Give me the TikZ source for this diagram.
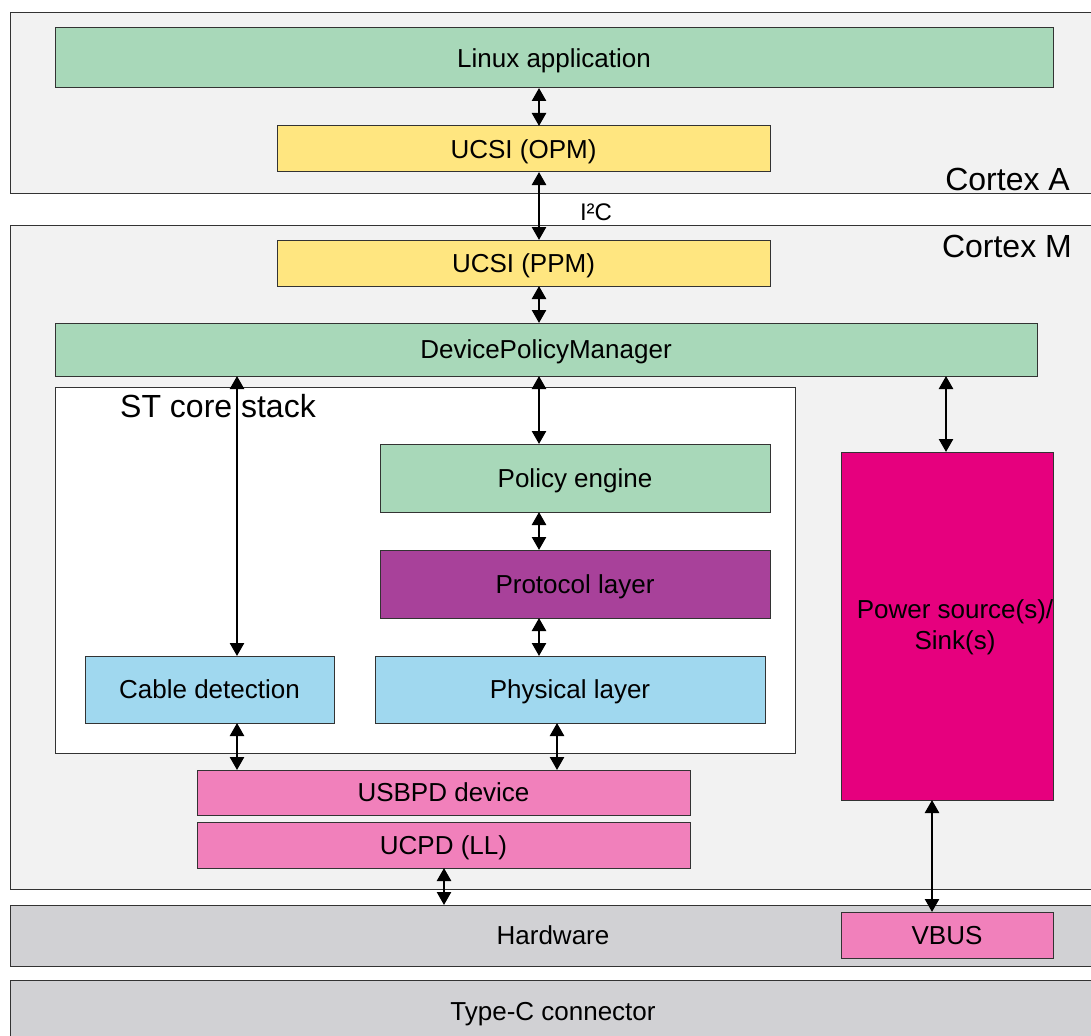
\documentclass[tikz,border=0pt]{standalone}
\usepackage{fontspec}
\setmainfont{Liberation Sans}
\usetikzlibrary{arrows.meta}
\definecolor{bggrey}{HTML}{F2F2F2}
\definecolor{hwgrey}{HTML}{D1D1D4}
\definecolor{lgreen}{HTML}{A8D8B9}
\definecolor{lyellow}{HTML}{FFE680}
\definecolor{lpurple}{HTML}{A8419A}
\definecolor{lmagenta}{HTML}{E6007E}
\definecolor{lpink}{HTML}{F180BB}
\definecolor{lblue}{HTML}{A0D8EF}
\definecolor{edge}{HTML}{333333}
\tikzset{
  box/.style={draw=edge, line width=1pt, rectangle, inner sep=0pt, outer sep=0pt,
    font=\fontsize{26}{31}\selectfont, align=center, text height=18.6pt, text depth=0pt},
  lbl/.style={inner sep=0pt, font=\fontsize{32}{38}\selectfont},
  txt/.style={inner sep=0pt, font=\fontsize{26}{31}\selectfont, text height=18.6pt, text depth=0pt},
  biarrow/.style={line width=2.5pt, {Triangle[width=14pt,length=13pt]}-{Triangle[width=14pt,length=13pt]}},
}
\begin{document}
\begin{tikzpicture}[x=1pt,y=-1pt]
\useasboundingbox (0,0) rectangle (1091,1035);
\clip (0,0) rectangle (1091,1035);
% outer regions
\node[box, fill=bggrey, minimum width=1090, minimum height=180, anchor=north west] (cortexa) at (10,13) {};
\node[box, fill=bggrey, minimum width=1090, minimum height=664, anchor=north west] (cortexm) at (10,225) {};
\node[box, fill=hwgrey, minimum width=1090, minimum height=61, anchor=north west] (hw) at (10,905) {};
\node[box, fill=hwgrey, minimum width=1090, minimum height=70, anchor=north west] (typec) at (10,980) {};
\node[box, fill=white, minimum width=740, minimum height=366, anchor=north west] (stcore) at (55,387) {};
% labels
\node[lbl, anchor=east] (lca) at (1070,179) {Cortex A};
\node[lbl, anchor=east] (lcm) at (1072,246) {Cortex M};
\node[lbl, anchor=west] (lst) at (120,406) {ST core stack};
\node[inner sep=0pt, font=\fontsize{24}{28}\selectfont] (li2c) at (596,212) {I²C};
\node[txt] (lhw) at (553,935) {Hardware};
\node[txt] (ltc) at (553,1011) {Type-C connector};
% blocks
\node[box, fill=lgreen, minimum width=998, minimum height=60] (linux) at (554,58) {Linux application};
\node[box, fill=lyellow, minimum width=493, minimum height=46] (opm) at (523.5,149) {UCSI (OPM)};
\node[box, fill=lyellow, minimum width=493, minimum height=46] (ppm) at (523.5,263) {UCSI (PPM)};
\node[box, fill=lgreen, minimum width=982, minimum height=53] (dpm) at (546,349.5) {DevicePolicyManager};
\node[box, fill=lgreen, minimum width=390, minimum height=68] (pe) at (575,478) {Policy engine};
\node[box, fill=lpurple, minimum width=390, minimum height=68] (pl) at (575,584) {Protocol layer};
\node[box, fill=lblue, minimum width=390, minimum height=67] (phy) at (570,689.5) {Physical layer};
\node[box, fill=lblue, minimum width=249, minimum height=67] (cable) at (209.5,689.5) {Cable detection};
\node[box, fill=lpink, minimum width=493, minimum height=45] (usbpd) at (443.5,792.5) {USBPD device};
\node[box, fill=lpink, minimum width=493, minimum height=46] (ucpd) at (443.5,845) {UCPD (LL)};
\node[box, fill=lmagenta, minimum width=212, minimum height=348] (pwr) at (947,626) {};
\node[txt, align=center] (pwrt) at (955,640) {Power source(s)/\\Sink(s)};
\node[box, fill=lpink, minimum width=212, minimum height=46] (vbus) at (947,935) {VBUS};
% x positions of connectors
\coordinate (xc) at (539,0);
\coordinate (xcab) at (237,0);
\coordinate (xphy) at (557,0);
\coordinate (xucpd) at (444,0);
\coordinate (xpw) at (946,0);
\coordinate (xvb) at (932,0);
% connectors
\draw[biarrow] (linux.south -| xc) -- (opm.north -| xc);
\draw[biarrow] (opm.south -| xc) -- (ppm.north -| xc);
\draw[biarrow] (ppm.south -| xc) -- (dpm.north -| xc);
\draw[biarrow] (dpm.south -| xc) -- (pe.north -| xc);
\draw[biarrow] (pe.south -| xc) -- (pl.north -| xc);
\draw[biarrow] (pl.south -| xc) -- (phy.north -| xc);
\draw[biarrow] (dpm.south -| xcab) -- (cable.north -| xcab);
\draw[biarrow] (cable.south -| xcab) -- (usbpd.north -| xcab);
\draw[biarrow] (phy.south -| xphy) -- (usbpd.north -| xphy);
\draw[biarrow] (ucpd.south -| xucpd) -- (hw.north -| xucpd);
\draw[biarrow] (dpm.south -| xpw) -- (pwr.north -| xpw);
\draw[biarrow] (pwr.south -| xvb) -- (vbus.north -| xvb);
\end{tikzpicture}
\end{document}
